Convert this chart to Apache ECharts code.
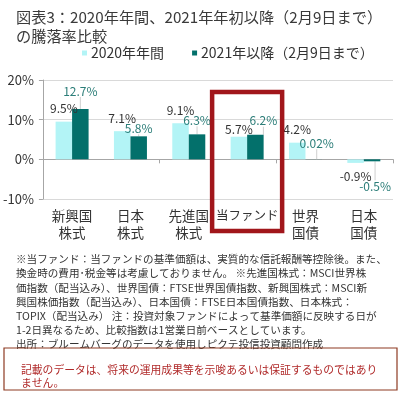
<!DOCTYPE html>
<html><head><meta charset="utf-8">
<script src="https://cdn.jsdelivr.net/npm/echarts@6/dist/echarts.min.js"></script>
<style>html,body{margin:0;padding:0;background:#fff}#c{width:402px;height:393px}</style>
</head><body><div id="c"></div>
<script>
const categories = ['新興国\n株式', '日本\n株式', '先進国\n株式', '当ファンド', '世界\n国債', '日本\n国債'];
const series2020 = [9.5, 7.1, 9.1, 5.7, 4.2, -0.9];
const series2021 = [12.7, 5.8, 6.3, 6.2, 0.02, -0.5];
const seriesNames = ['2020年年間', '2021年以降（2月9日まで）'];
const yTicks = { min: -10, max: 20, interval: 10 };
const highlightIndex = 3;
const titleLines = ['図表3：2020年年間、2021年年初以降（2月9日まで）', 'の騰落率比較'];
const noteLines = [
  '※当ファンド：当ファンドの基準価額は、実質的な信託報酬等控除後。また、',
  '換金時の費用･税金等は考慮しておりません。 ※先進国株式：MSCI世界株',
  '価指数（配当込み）、世界国債：FTSE世界国債指数、新興国株式：MSCI新',
  '興国株価指数（配当込み）、日本国債：FTSE日本国債指数、日本株式：',
  'TOPIX（配当込み） 注：投資対象ファンドによって基準価額に反映する日が',
  '1-2日異なるため、比較指数は1営業日前ベースとしています。',
  '出所：ブルームバーグのデータを使用しピクテ投信投資顧問作成'
];
const disclaimer = ['記載のデータは、将来の運用成果等を示唆あるいは保証するものではあり', 'ません。'];

const FONT = 'Noto Sans CJK JP';
const LIGHT = '#b3f4f6', DARK = '#03706b';
// manual label nudges (style only), keyed by category index
const lightNudge = { 3: { dy: 6 }, 5: { dy: 1 } };
const darkNudge = { 0: { dy: -4 }, 1: { dy: 6 }, 3: { dx: 8, dy: 0 }, 4: { dx: 3, dy: -2 }, 5: { dx: 3, dy: 11 } };

const chart = echarts.init(document.getElementById('c'), null, {renderer: 'canvas'});

function fmt(v) { return v + '%'; }
function items(vals) {
  return vals.map(v => ({ value: v, label: { position: v < 0 ? 'bottom' : 'top' } }));
}

chart.setOption({
  animation: false,
  textStyle: { fontFamily: FONT },
  title: [
    { text: titleLines.join('\n'), left: 11, top: 3,
      textStyle: { fontFamily: FONT, fontSize: 15.2, fontWeight: 'normal', color: '#3a3a3a', lineHeight: 19 } },
    { text: noteLines.join('\n'), left: 11, top: 247,
      textStyle: { fontFamily: FONT, fontSize: 10.6, fontWeight: 'normal', color: '#333', lineHeight: 14.2 } },
    { text: disclaimer.join('\n'), left: 16, top: 358,
      textStyle: { fontFamily: FONT, fontSize: 10.8, fontWeight: 'normal', color: '#b02a2a', lineHeight: 13.5 } }
  ],
  legend: {
    left: 77, top: 41, icon: 'rect', itemWidth: 5, itemHeight: 5, itemGap: 28,
    textStyle: { fontFamily: FONT, fontSize: 14, color: '#333', padding: [0, 0, 0, -1] },
    data: seriesNames
  },
  grid: { left: 40, right: 9, top: 80, bottom: 194 },
  xAxis: [
    { type: 'category', data: categories, position: 'bottom',
      axisLine: { onZero: true, lineStyle: { color: '#a6a6a6' } },
      axisTick: { show: true, length: 4, lineStyle: { color: '#a6a6a6' } },
      axisLabel: { show: false }, splitLine: { show: false } },
    { type: 'category', data: categories, position: 'bottom', gridIndex: 0,
      axisLine: { show: false, onZero: false }, axisTick: { show: false },
      axisLabel: { interval: 0, fontFamily: FONT, fontSize: 13.5, lineHeight: 17, color: '#333', margin: 8,
        formatter: (v, i) => (i === highlightIndex ? '{n|' + v + '}' : v),
        rich: { n: { fontFamily: FONT, fontSize: 12.5, color: '#333', lineHeight: 17 } } } }
  ],
  yAxis: {
    type: 'value', min: yTicks.min, max: yTicks.max, interval: yTicks.interval,
    axisLine: { show: true, lineStyle: { color: '#a6a6a6' } },
    axisTick: { show: true, length: 4, lineStyle: { color: '#a6a6a6' } },
    axisLabel: { formatter: '{value}%', fontFamily: FONT, fontSize: 13, color: '#333', margin: 9 },
    splitLine: { lineStyle: { color: '#d9d9d9' } }
  },
  series: [
    { name: seriesNames[0], type: 'bar', data: items(series2020), barWidth: 16.5, barGap: '0%',
      itemStyle: { color: LIGHT },
      label: { show: true, fontFamily: FONT, fontSize: 12, color: '#333', distance: 7,
        formatter: p => fmt(p.value) },
      labelLayout: p => lightNudge[p.dataIndex] || {}
    },
    { name: seriesNames[1], type: 'bar', data: items(series2021), barWidth: 16.5,
      itemStyle: { color: DARK },
      label: { show: true, fontFamily: FONT, fontSize: 12, color: '#2b7d78', distance: 8,
        formatter: p => fmt(p.value) },
      labelLine: { show: true, lineStyle: { color: '#cfcfcf', width: 1 } },
      labelLayout: p => darkNudge[p.dataIndex] || {}
    }
  ]
});

// highlight box around the fund's category
function drawBox() {
  const cx = chart.convertToPixel({ xAxisIndex: 0 }, highlightIndex);
  const c0 = chart.convertToPixel({ xAxisIndex: 0 }, 0);
  const c1 = chart.convertToPixel({ xAxisIndex: 0 }, 1);
  const band = c1 - c0;
  const yTop = chart.convertToPixel({ yAxisIndex: 0 }, 17);
  const yBot = chart.convertToPixel({ yAxisIndex: 0 }, yTicks.min);
  const w = band * 1.2;
  chart.setOption({
    graphic: [
      { type: 'rect', shape: { x: cx - w / 2, y: yTop, width: w, height: (yBot - yTop) + 32 },
        style: { fill: 'none', stroke: '#a1161b', lineWidth: 4.5 }, z: 100 },
      { type: 'rect', shape: { x: 4, y: 348, width: 393, height: 42 },
        style: { fill: 'none', stroke: '#8e3a22', lineWidth: 1.2 }, z: 100 }
    ]
  });
}
drawBox();
</script>
</body></html>
